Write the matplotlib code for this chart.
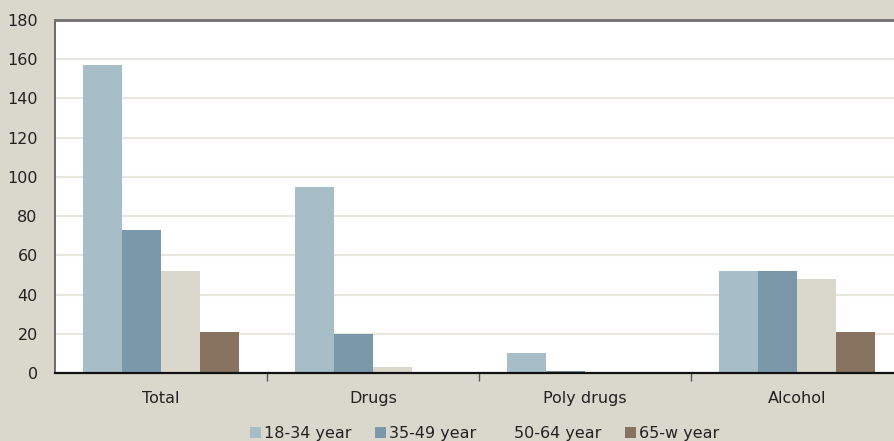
import matplotlib
matplotlib.use("Agg")
import matplotlib.pyplot as plt
import numpy as np

categories = ["Total", "Drugs", "Poly drugs", "Alcohol"]
series_names = ["18-34 year", "35-49 year", "50-64 year", "65-w year"]
v_18_34 = [157, 95, 10, 52]
v_35_49 = [73, 20, 1, 52]
v_50_64 = [52, 3, 0.7, 48]
v_65_w = [21, 0, 0, 21]
series_values = [v_18_34, v_35_49, v_50_64, v_65_w]
colors = ["#A7BDC8", "#7B98AA", "#DAD8CC", "#87735F"]
yticks = [0, 20, 40, 60, 80, 100, 120, 140, 160, 180]

bg = "#DAD8CC"
plt.rcParams['font.family'] = ['DejaVu Sans']

fig = plt.figure(figsize=(8.94, 4.41), dpi=100, facecolor=bg)
ax = fig.add_axes([55/894, 1-373/441, 848/894, 353/441])
ax.set_facecolor("white")

x = np.arange(len(categories))
w = 0.184
for i, (name, vals, c) in enumerate(zip(series_names, series_values, colors)):
    ax.bar(x + (i - 1.5) * w, vals, width=w, color=c, label=name, zorder=3, linewidth=0)

ax.set_xlim(-0.5, len(categories) - 0.5)
ax.set_ylim(0, 180)
ax.set_yticks(yticks)
ax.yaxis.grid(True, color="#E8E6DF", linewidth=1.5, zorder=0)
ax.tick_params(axis='y', length=0, labelsize=11.5, pad=12.5, colors="#222222")
ax.set_xticks(x)
ax.set_xticklabels(categories)
ax.tick_params(axis='x', which='major', length=0, labelsize=11.5, pad=13, colors="#222222")
ax.set_xticks(np.arange(0.5, len(categories) - 1, 1), minor=True)
ax.tick_params(axis='x', which='minor', length=6, width=1, color="#555555", direction='out')

ax.spines["right"].set_visible(False)
ax.spines["top"].set_color("#707070")
ax.spines["top"].set_linewidth(2)
ax.spines["left"].set_color("#555555")
ax.spines["left"].set_linewidth(1.2)
ax.spines["bottom"].set_color("#111111")
ax.spines["bottom"].set_linewidth(1.6)
ax.spines["bottom"].set_zorder(4)

leg = fig.legend(loc="lower center", bbox_to_anchor=(0.542, -0.032), ncol=4, frameon=False,
                 fontsize=11.5, handlelength=0.7, handleheight=0.7, handletextpad=0.2,
                 columnspacing=1.45)
for t in leg.get_texts():
    t.set_color("#222222")

fig.savefig("out.png", dpi=100, facecolor=bg)
